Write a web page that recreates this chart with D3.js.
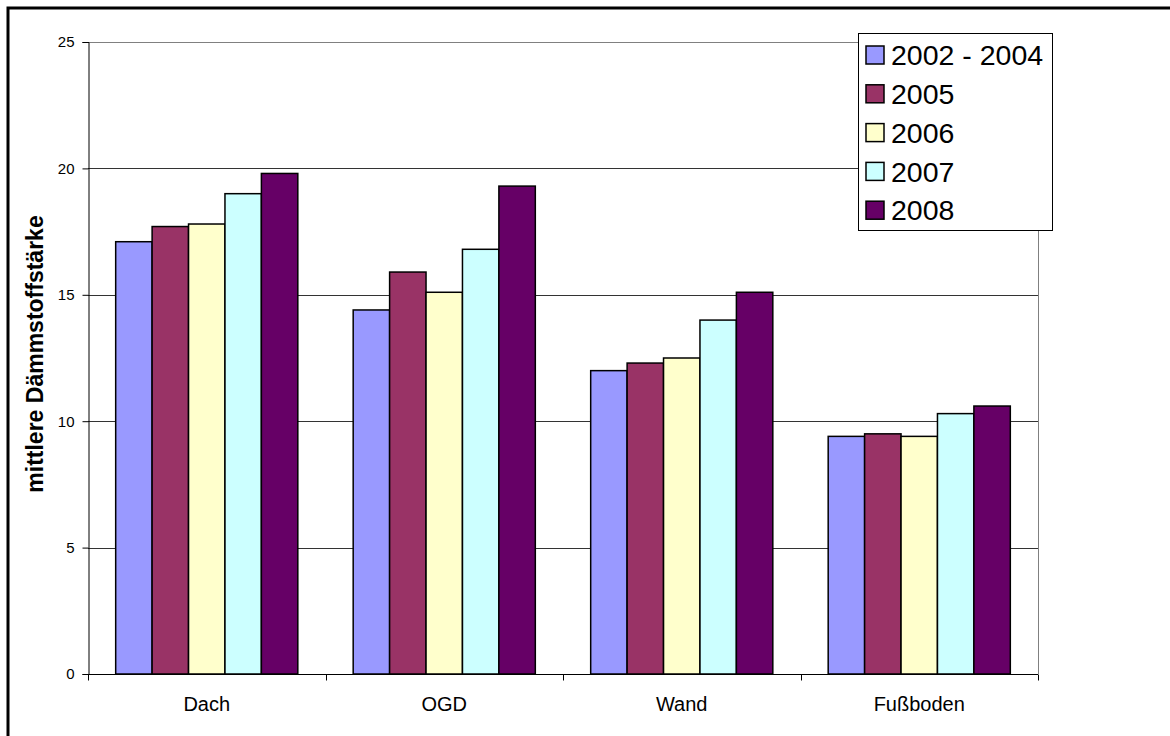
<!DOCTYPE html>
<html>
<head>
<meta charset="utf-8">
<script src="https://cdn.jsdelivr.net/npm/d3@7"></script>
<style>
  html, body { margin: 0; padding: 0; background: #fff; }
  svg { display: block; font-family: Arial, "Liberation Sans", sans-serif; }
</style>
</head>
<body>
<svg id="chart" width="1170" height="736"></svg>
<script>
// Mean insulation thickness per building component and year
const categories = ["Dach", "OGD", "Wand", "Fußboden"];
const seriesNames = ["2002 - 2004", "2005", "2006", "2007", "2008"];
const seriesColors = ["#9999FF", "#993366", "#FFFFCC", "#CCFFFF", "#660066"];
const v2002_2004 = [17.1, 14.4, 12.0, 9.4];
const v2005 = [17.7, 15.9, 12.3, 9.5];
const v2006 = [17.8, 15.1, 12.5, 9.4];
const v2007 = [19.0, 16.8, 14.0, 10.3];
const v2008 = [19.8, 19.3, 15.1, 10.6];
const yTicks = [0, 5, 10, 15, 20, 25];
const yLabel = "mittlere Dämmstoffstärke";

const seriesValues = [v2002_2004, v2005, v2006, v2007, v2008];

const svg = d3.select("#chart");
const plotLeft = 88, plotRight = 1038, plotTop = 42, plotBottom = 674;

// outer frame
svg.append("rect")
  .attr("x", 8).attr("y", 8)
  .attr("width", 1200).attr("height", 800)
  .attr("fill", "none").attr("stroke", "#000").attr("stroke-width", 3);

const x = d3.scaleBand().domain(categories).range([plotLeft, plotRight]).paddingInner(0).paddingOuter(0);
const xs = d3.scaleBand().domain(seriesNames).range([0, x.bandwidth()]).paddingInner(0).paddingOuter(0.76);
const y = d3.scaleLinear().domain([0, 25]).range([plotBottom, plotTop]);

// plot area border (top/right)
svg.append("path")
  .attr("d", `M${plotLeft},${plotTop + 0.5}H${plotRight + 0.5}V${plotBottom}`)
  .attr("fill", "none").attr("stroke", "#808080").attr("stroke-width", 1);

// gridlines
svg.append("g")
  .selectAll("line")
  .data(yTicks.filter(d => d > 0 && d < 25))
  .join("line")
  .attr("x1", plotLeft).attr("x2", plotRight)
  .attr("y1", d => Math.round(y(d)) + 0.5).attr("y2", d => Math.round(y(d)) + 0.5)
  .attr("stroke", "#333").attr("stroke-width", 1);

// bars
const rows = [];
categories.forEach((c, i) => {
  seriesNames.forEach((s, j) => rows.push({ c, s, j, v: seriesValues[j][i] }));
});
svg.append("g")
  .selectAll("rect")
  .data(rows)
  .join("rect")
  .attr("x", d => x(d.c) + xs(d.s))
  .attr("y", d => y(d.v))
  .attr("width", xs.bandwidth())
  .attr("height", d => y(0) - y(d.v))
  .attr("fill", d => seriesColors[d.j])
  .attr("stroke", "#000").attr("stroke-width", 1.5);

// y axis
const yAxis = d3.axisLeft(y).tickValues(yTicks).tickSize(6).tickPadding(8).tickFormat(d3.format("d"));
const gy = svg.append("g").attr("transform", `translate(${plotLeft + 0.5},0)`).call(yAxis);
gy.select(".domain").attr("stroke", "#000");
gy.selectAll(".tick line").attr("stroke", "#000");
gy.selectAll(".tick text").attr("font-size", 15).attr("fill", "#000").attr("font-family", "Arial, 'Liberation Sans', sans-serif");

// x axis: ticks at category boundaries
const gx = svg.append("g").attr("transform", `translate(0,${plotBottom + 0.5})`);
gx.append("line").attr("x1", plotLeft).attr("x2", plotRight).attr("stroke", "#000");
const bounds = categories.map(c => x(c)).concat([plotRight]);
gx.selectAll("line.tk").data(bounds).join("line")
  .attr("class", "tk")
  .attr("x1", d => Math.round(d) + 0.5).attr("x2", d => Math.round(d) + 0.5)
  .attr("y1", 0).attr("y2", 6).attr("stroke", "#000");
gx.selectAll("text").data(categories).join("text")
  .attr("x", d => x(d) + x.bandwidth() / 2)
  .attr("y", 36.5)
  .attr("text-anchor", "middle")
  .attr("font-size", 20).attr("fill", "#000")
  .text(d => d);

// y axis title
svg.append("text")
  .attr("transform", "translate(43,354) rotate(-90)")
  .attr("text-anchor", "middle")
  .attr("font-size", 23).attr("font-weight", "bold").attr("fill", "#000")
  .text(yLabel);

// legend
const lg = svg.append("g");
lg.append("rect")
  .attr("x", 858.5).attr("y", 33.5).attr("width", 194).attr("height", 197)
  .attr("fill", "#fff").attr("stroke", "#000").attr("stroke-width", 1);
const items = lg.selectAll("g.item").data(seriesNames).join("g")
  .attr("class", "item")
  .attr("transform", (d, i) => `translate(0,${55 + i * 38.8})`);
items.append("rect")
  .attr("x", 866).attr("y", -9).attr("width", 18).attr("height", 18)
  .attr("fill", (d, i) => seriesColors[i])
  .attr("stroke", "#000").attr("stroke-width", 1.5);
items.append("text")
  .attr("x", 891).attr("y", 0).attr("dy", "0.36em")
  .attr("font-size", 28.5).attr("fill", "#000")
  .text(d => d);
</script>
</body>
</html>
